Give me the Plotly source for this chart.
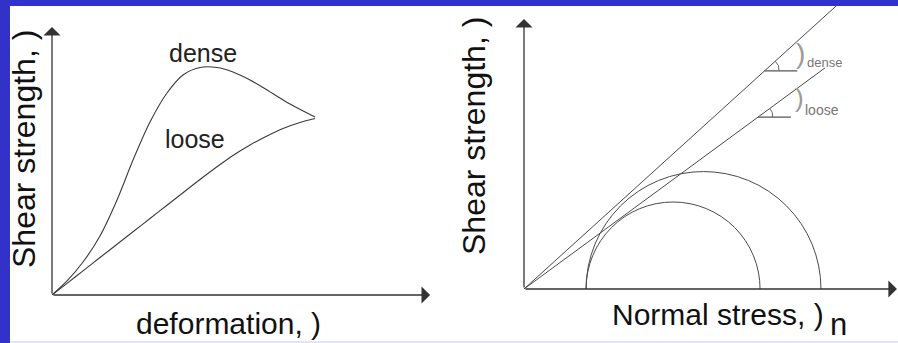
import math
import plotly.graph_objects as go

W, H = 898, 343

# ---------------- data (schematic units) ----------------
# left panel: shear strength vs deformation
dense_x = [0, 0.395, 0.816, 1.263, 1.711, 2.132, 2.579, 3.026, 3.447, 3.895, 4.342, 4.763, 5.211, 5.658, 6.263, 6.921]
dense_y = [0, 0.519, 1.222, 2.185, 3.519, 5.0, 6.407, 7.481, 8.148, 8.426, 8.426, 8.259, 7.963, 7.593, 7.074, 6.593]
loose_x = [0, 0.395, 0.816, 1.263, 1.711, 2.132, 2.579, 3.026, 3.447, 3.895, 4.342, 4.763, 5.211, 5.658, 6.079, 6.526, 6.921]
loose_y = [0, 0.433, 0.896, 1.389, 1.878, 2.341, 2.833, 3.326, 3.789, 4.278, 4.748, 5.167, 5.556, 5.889, 6.167, 6.389, 6.537]

# right panel: Mohr circles and failure envelopes
sigma3 = 2.14
sigma1 = {"loose": 8.14, "dense": 10.24}
phi_deg = {"dense": 42.2, "loose": 36.3}
envelope_end_x = {"dense": 12.0, "loose": 10.38}
marker_y = {"dense": 7.52, "loose": 5.93}   # height of the angle markers

labels_left = {"dense": (203, 53), "loose": (195, 139)}

LINE = "#3a3a3a"
BLUE = "#3232c8"
FONT = "Liberation Sans, Arial"

def px_x(p):
    return p / W

def px_y(p):
    return 1 - p / H

def label(text, xp, yp, size, color="#111", angle=0, xanchor="center"):
    return dict(text=text, x=px_x(xp), y=px_y(yp), xref="paper", yref="paper", showarrow=False,
                xanchor=xanchor, yanchor="middle", textangle=angle, borderpad=0,
                font=dict(family=FONT, size=size, color=color))

fig = go.Figure()

# left panel curves
for xs, ys in [(dense_x, dense_y), (loose_x, loose_y)]:
    fig.add_trace(go.Scatter(x=xs, y=ys, mode="lines",
                             line=dict(color=LINE, width=1.1, shape="spline", smoothing=0.8),
                             xaxis="x", yaxis="y", hoverinfo="skip"))

# right panel envelopes
for k in ["dense", "loose"]:
    t = math.tan(math.radians(phi_deg[k]))
    xe = envelope_end_x[k]
    fig.add_trace(go.Scatter(x=[0, xe], y=[0, xe * t], mode="lines", line=dict(color="#4a4a4a", width=1),
                             xaxis="x2", yaxis="y2", hoverinfo="skip"))

shapes = []
# Mohr circles
for k in ["loose", "dense"]:
    r = (sigma1[k] - sigma3) / 2
    shapes.append(dict(type="circle", xref="x2", yref="y2", x0=sigma3, x1=sigma1[k], y0=-r, y1=r,
                       line=dict(color="#4a4a4a", width=1)))

# angle markers
ann = []
for k in ["dense", "loose"]:
    t = math.tan(math.radians(phi_deg[k]))
    yv = marker_y[k]
    xv = yv / t
    shapes.append(dict(type="line", xref="x2", yref="y2", x0=xv, x1=xv + 1.13, y0=yv, y1=yv,
                       line=dict(color="#555", width=1.2)))
    a = math.radians(phi_deg[k])
    rr = 0.5
    x0, y0 = xv + rr, yv
    x1, y1 = xv + rr * math.cos(a), yv + rr * math.sin(a)
    cx, cy = xv + rr * 1.05, yv + rr * math.sin(a) * 0.6
    shapes.append(dict(type="path", xref="x2", yref="y2",
                       path=f"M {x0},{y0} Q {cx},{cy} {x1},{y1}", line=dict(color="#666", width=1)))

# axes arrows
def arrow(xr, yr, xt, yt):
    return dict(x=xt, y=yt, ax=0, ay=0, xref=xr, yref=yr, axref=xr, ayref=yr, text="",
                showarrow=True, arrowhead=1, arrowsize=2.2, arrowwidth=1.3, arrowcolor="#333")

ann += [arrow("x", "y", 9.95, 0), arrow("x", "y", 0, 9.93),
        arrow("x2", "y2", 12.86, 0), arrow("x2", "y2", 0, 9.31)]

# curve labels
for txt, (xp, yp) in labels_left.items():
    ann.append(label(txt, xp, yp, 25, "#222"))

# friction angle labels
ann += [
    label(")", 800, 53, 28, "#999"),
    label("dense", 806, 63, 13, "#777", xanchor="left"),
    label(")", 799, 98, 26, "#999"),
    label("loose", 804, 110, 14, "#777", xanchor="left"),
]

# axis titles
ann += [
    label("Shear strength, )", 24, 149, 32, angle=-90),
    label("deformation, )", 228, 323, 30),
    label("Shear strength, )", 474, 136, 32, angle=-90),
    label("Normal stress, )", 718, 314, 30),
    label("n", 838, 324, 31),
]

# blue frame
shapes += [
    dict(type="rect", xref="paper", yref="paper", x0=0, x1=px_x(10), y0=0, y1=1,
         fillcolor=BLUE, line=dict(width=0), layer="above"),
    dict(type="rect", xref="paper", yref="paper", x0=0, x1=1, y0=px_y(6), y1=1,
         fillcolor=BLUE, line=dict(width=0), layer="above"),
    dict(type="rect", xref="paper", yref="paper", x0=px_x(10), x1=1, y0=0, y1=px_y(341),
         fillcolor="#e4e4f6", line=dict(width=0), layer="above"),
]

axis_common = dict(visible=False, showgrid=False, zeroline=False, fixedrange=True)
fig.update_layout(
    width=W, height=H, margin=dict(l=0, r=0, t=0, b=0),
    paper_bgcolor="white", plot_bgcolor="rgba(0,0,0,0)", showlegend=False,
    xaxis=dict(domain=[px_x(52), px_x(432)], range=[0, 10], **axis_common),
    yaxis=dict(domain=[px_y(295), px_y(25)], range=[0, 10], **axis_common),
    xaxis2=dict(domain=[px_x(524), 1.0], range=[0, 374 / 29], anchor="y2", **axis_common),
    yaxis2=dict(domain=[px_y(289), px_y(6)], range=[0, 283 / 29], anchor="x2", **axis_common),
    shapes=shapes, annotations=ann,
)

fig.write_html("out.html", config={"displayModeBar": False},
               post_script="document.body.style.margin='0';document.body.style.overflow='hidden';")
